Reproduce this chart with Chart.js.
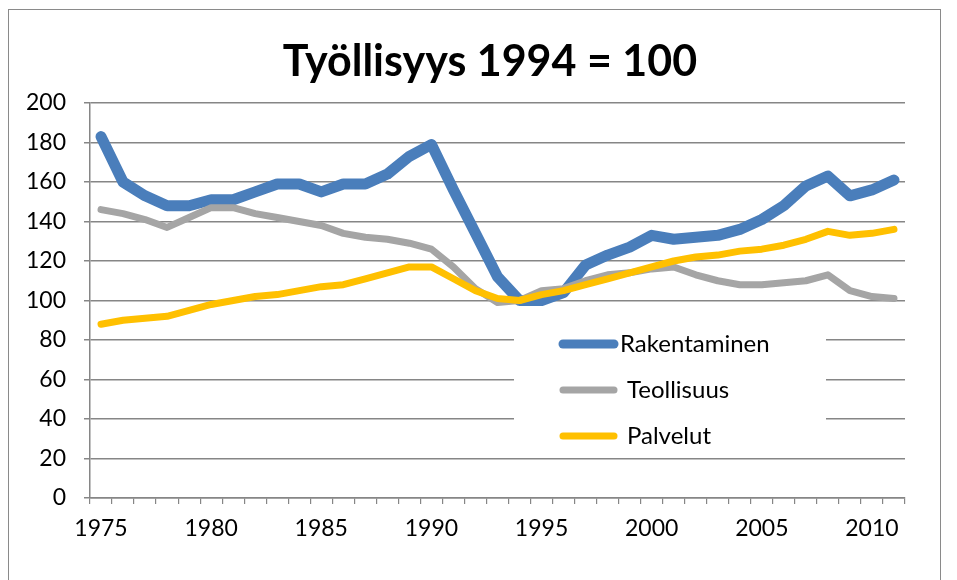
<!DOCTYPE html>
<html>
<head>
<meta charset="utf-8">
<script src="https://cdn.jsdelivr.net/npm/chart.js@4"></script>
<style>
  html, body { margin: 0; padding: 0; background: #fff; }
  #wrap { width: 957px; height: 580px; }
</style>
</head>
<body>
<div id="wrap"><canvas id="chart" width="957" height="580"></canvas></div>
<script>
// Työllisyys, 1994 = 100
const chartTitle = 'Työllisyys 1994 = 100';
const years = [1975, 1976, 1977, 1978, 1979, 1980, 1981, 1982, 1983, 1984,
               1985, 1986, 1987, 1988, 1989, 1990, 1991, 1992, 1993, 1994,
               1995, 1996, 1997, 1998, 1999, 2000, 2001, 2002, 2003, 2004,
               2005, 2006, 2007, 2008, 2009, 2010, 2011];
const seriesNames = ['Rakentaminen', 'Teollisuus', 'Palvelut'];
const rakentaminen = [183, 160, 153, 148, 148, 151, 151, 155, 159, 159,
                      155, 159, 159, 164, 173, 179, 156, 134, 112, 100,
                      100, 104, 118, 123, 127, 133, 131, 132, 133, 136,
                      141, 148, 158, 163, 153, 156, 161];
const teollisuus = [146, 144, 141, 137, 142, 147, 147, 144, 142, 140,
                    138, 134, 132, 131, 129, 126, 117, 106, 99, 100,
                    105, 106, 110, 113, 114, 116, 117, 113, 110, 108,
                    108, 109, 110, 113, 105, 102, 101];
const palvelut = [88, 90, 91, 92, 95, 98, 100, 102, 103, 105,
                  107, 108, 111, 114, 117, 117, 111, 105, 101, 100,
                  103, 105, 108, 111, 114, 117, 120, 122, 123, 125,
                  126, 128, 131, 135, 133, 134, 136];
const yTicks = [0, 20, 40, 60, 80, 100, 120, 140, 160, 180, 200];

const gridGray = '#868686';
const fontFamily = 'Lato, "Open Sans", sans-serif';

// frame, title and the legend box are drawn by hand
const decorPlugin = {
  id: 'decor',
  afterDraw(chart) {
    const ctx = chart.ctx;
    ctx.save();
    // outer frame
    ctx.strokeStyle = '#8a8a8a';
    ctx.lineWidth = 1;
    ctx.strokeRect(8.5, 9.5, 932, 600);
    // title
    ctx.fillStyle = '#000';
    ctx.font = 'bold 43px ' + fontFamily;
    ctx.textAlign = 'center';
    ctx.textBaseline = 'middle';
    ctx.fillText(chartTitle, 490, 62);

    // legend inside the plot
    ctx.fillStyle = '#fff';
    ctx.fillRect(514, 318, 312, 139);
    const rowY = [344, 390, 436];
    const textX = [620, 627, 627];
    ctx.font = '24px ' + fontFamily;
    ctx.textAlign = 'left';
    chart.data.datasets.forEach((ds, i) => {
      ctx.strokeStyle = ds.borderColor;
      ctx.lineWidth = i === 0 ? 9 : 7;
      ctx.lineCap = 'round';
      ctx.beginPath();
      ctx.moveTo(563, rowY[i]);
      ctx.lineTo(614, rowY[i]);
      ctx.stroke();
      ctx.fillStyle = '#000';
      ctx.fillText(ds.label, textX[i], rowY[i]);
    });
    ctx.restore();
  }
};

const ctx = document.getElementById('chart').getContext('2d');
const chart = new Chart(ctx, {
  type: 'line',
  data: {
    labels: years,
    datasets: [
      {
        label: seriesNames[0],
        data: rakentaminen,
        borderColor: '#4A7EBB',
        borderWidth: 11,
        order: 2
      },
      {
        label: seriesNames[1],
        data: teollisuus,
        borderColor: '#A5A5A5',
        borderWidth: 7,
        order: 1
      },
      {
        label: seriesNames[2],
        data: palvelut,
        borderColor: '#FFC000',
        borderWidth: 7,
        order: 0
      }
    ]
  },
  options: {
    responsive: false,
    animation: false,
    layout: { padding: { top: 103, right: 52, bottom: 0, left: 0 } },
    elements: {
      point: { radius: 0 },
      line: { tension: 0, borderCapStyle: 'round', borderJoinStyle: 'round', fill: false }
    },
    plugins: {
      legend: { display: false },
      title: { display: false },
      tooltip: { enabled: false }
    },
    scales: {
      x: {
        type: 'category',
        offset: true,
        afterFit(scale) { scale.height = 82; },
        border: { display: true, color: gridGray, width: 1.5 },
        grid: {
          offset: true,
          drawOnChartArea: false,
          drawTicks: true,
          tickLength: 6,
          color: gridGray,
          lineWidth: 1.2
        },
        ticks: {
          autoSkip: false,
          maxRotation: 0,
          padding: 11,
          color: '#000',
          font: { family: fontFamily, size: 23 },
          callback(value, index) {
            const y = years[index];
            return y % 5 === 0 ? String(y) : '';
          }
        }
      },
      y: {
        min: 0,
        max: 200,
        afterFit(scale) { scale.width = 90; },
        afterBuildTicks(scale) { scale.ticks = yTicks.map(v => ({ value: v })); },
        border: { display: true, color: gridGray, width: 1.5 },
        grid: {
          color: gridGray,
          lineWidth: 1.5,
          drawTicks: true,
          tickLength: 6
        },
        ticks: {
          padding: 18,
          color: '#000',
          font: { family: fontFamily, size: 23 }
        }
      }
    }
  },
  plugins: [decorPlugin]
});
</script>
</body>
</html>
